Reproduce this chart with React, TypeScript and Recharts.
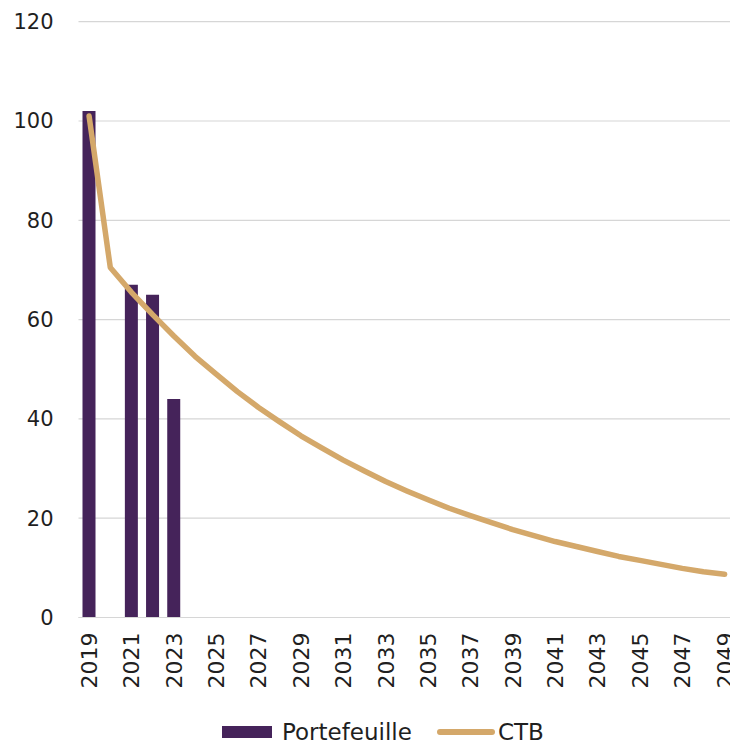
import { ComposedChart, Bar, Line, XAxis, YAxis, CartesianGrid, Legend } from "recharts";

const years = [
  2019, 2020, 2021, 2022, 2023, 2024, 2025, 2026, 2027, 2028, 2029, 2030, 2031, 2032, 2033, 2034,
  2035, 2036, 2037, 2038, 2039, 2040, 2041, 2042, 2043, 2044, 2045, 2046, 2047, 2048, 2049,
];

// portfolio only reported for a few years
const portefeuille: (number | null)[] = [102, null, 67, 65, 44];

const ctb = [
  101, 70.5, 65.5, 61, 56.7, 52.6, 49, 45.5, 42.3, 39.4, 36.6, 34.1, 31.7, 29.5, 27.4, 25.5,
  23.7, 22, 20.5, 19.1, 17.7, 16.5, 15.3, 14.3, 13.3, 12.3, 11.5, 10.7, 9.9, 9.2, 8.7,
];

const yTicks = [0, 20, 40, 60, 80, 100, 120];

const PURPLE = "#45235A";
const GOLD = "#D4A86A";
const FONT = "'DejaVu Sans', sans-serif";

const data = years.map((y, i) => ({
  year: String(y),
  Portefeuille: portefeuille[i] ?? null,
  CTB: ctb[i],
}));

function YearTick({ x, y, payload }: any) {
  return (
    <text
      x={x}
      y={y}
      dy="0.36em"
      transform={`rotate(-90 ${x} ${y})`}
      textAnchor="end"
      fill="#1f1f1f"
      fontSize={22}
      fontFamily={FONT}
    >
      {payload.value}
    </text>
  );
}

function ChartLegend() {
  return (
    <div
      style={{
        height: 30,
        paddingTop: 5,
        boxSizing: "border-box",
        display: "flex",
        alignItems: "center",
        fontFamily: FONT,
        fontSize: 23,
        color: "#1f1f1f",
        whiteSpace: "nowrap",
      }}
    >
      <span style={{ width: 50, height: 12, background: PURPLE, marginRight: 10 }} />
      <span style={{ marginRight: 25 }}>Portefeuille</span>
      <span style={{ width: 58, height: 6, borderRadius: 3, background: GOLD, marginRight: 3 }} />
      <span>CTB</span>
    </div>
  );
}

export default function App() {
  return (
    <div
      style={{
        position: "absolute",
        left: 0,
        top: 0,
        width: 730,
        height: 744,
        overflow: "hidden",
        background: "#fff",
      }}
    >
      <ComposedChart
        width={745}
        height={744}
        data={data}
        margin={{ top: 21.7, right: 9.8, left: 0, bottom: 0 }}
      >
        <CartesianGrid vertical={false} stroke="#d6d6d6" strokeWidth={1.2} />
        <XAxis
          dataKey="year"
          interval={1}
          height={96.5}
          tickLine={false}
          tickSize={0}
          tickMargin={15}
          axisLine={{ stroke: "#d6d6d6", strokeWidth: 1.2 }}
          tick={<YearTick />}
        />
        <YAxis
          domain={[0, 120]}
          ticks={yTicks}
          width={78.5}
          axisLine={false}
          tickLine={false}
          tickSize={0}
          tickMargin={25}
          tick={{ fill: "#1f1f1f", fontSize: 21, fontFamily: FONT }}
        />
        <Legend
          verticalAlign="bottom"
          height={30}
          content={<ChartLegend />}
          wrapperStyle={{ left: 222, bottom: 0, width: 400 }}
        />
        <Bar dataKey="Portefeuille" fill={PURPLE} barSize={13} isAnimationActive={false} />
        <Line
          dataKey="CTB"
          type="linear"
          stroke={GOLD}
          strokeWidth={5.5}
          dot={false}
          strokeLinejoin="round"
          strokeLinecap="round"
          isAnimationActive={false}
        />
      </ComposedChart>
    </div>
  );
}
